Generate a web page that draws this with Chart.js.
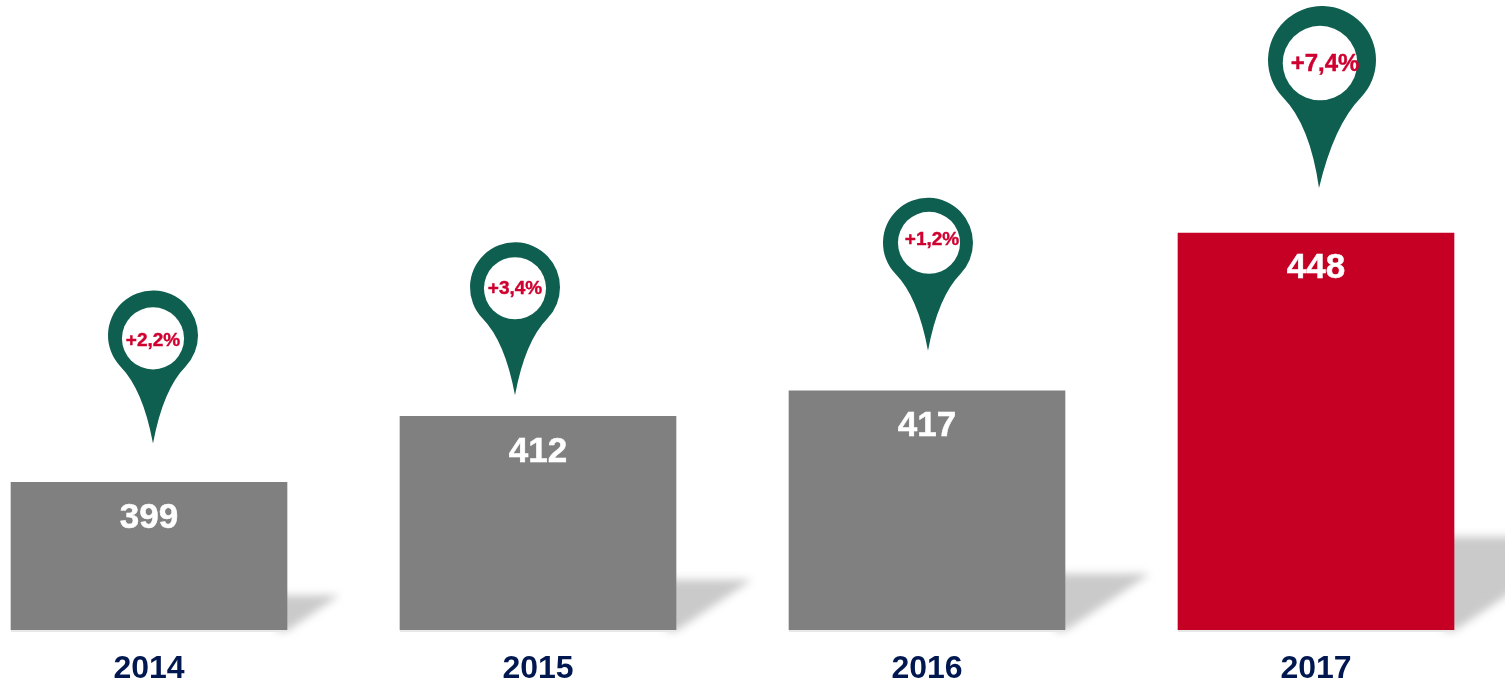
<!DOCTYPE html>
<html>
<head>
<meta charset="utf-8">
<script src="https://cdn.jsdelivr.net/npm/chart.js@4/dist/chart.umd.min.js"></script>
<style>
html,body{margin:0;padding:0;background:#fff;overflow:hidden;width:1505px;height:683px}
canvas{position:absolute;left:-46px;top:0}
</style>
</head>
<body>
<canvas id="c" width="1557" height="683"></canvas>
<script>
const years = ['2014','2015','2016','2017'];
const values = [399,412,417,448];
const growth = ['+2,2%','+3,4%','+1,2%','+7,4%'];
const barColors = ['#808080','#808080','#808080','#C60024'];

// pin placement relative to each bar
const pinDx = [4,-23,1,3];
const pinGap = [39,21,40,45];
const pinR = [45,45,45,54];
const pinStem = [108,108,108,128];
const pinHeadDx = [0,0,0,3];
const holeDx = [0,0,1,-2];
const holeDy = [3,1,0,3];
const pinFont = [19,19,19,24];
const labelDx = [0,0,4,3];
const labelDy = [5,1,-3,4];

const GREEN = '#0E5F50';
const FONT = '"Liberation Sans", Arial, sans-serif';

function drawPin(ctx, i, tipX, tipY){
  const r = pinR[i], k = r/45;
  const cx = tipX + pinHeadDx[i], cy = tipY - pinStem[i];
  ctx.save();
  ctx.fillStyle = GREEN;
  ctx.beginPath();
  const a = 0.76;
  ctx.arc(cx, cy, r, Math.PI - a, a, false);
  ctx.quadraticCurveTo(cx + 10*k, cy + 54*k, tipX, tipY);
  ctx.quadraticCurveTo(cx - 10*k, cy + 54*k, cx - r*Math.cos(a), cy + r*Math.sin(a));
  ctx.closePath();
  ctx.fill();
  ctx.fillStyle = '#fff';
  ctx.beginPath();
  ctx.arc(cx + holeDx[i], cy + holeDy[i], r*0.69, 0, Math.PI*2);
  ctx.fill();
  ctx.fillStyle = '#CF0030';
  ctx.strokeStyle = '#CF0030';
  ctx.lineWidth = 0.4;
  ctx.font = 'bold ' + pinFont[i] + 'px ' + FONT;
  ctx.textAlign = 'center';
  ctx.textBaseline = 'middle';
  ctx.fillText(growth[i], cx + labelDx[i], cy + labelDy[i]);
  ctx.strokeText(growth[i], cx + labelDx[i], cy + labelDy[i]);
  ctx.restore();
}

const decor = {
  id:'decor',
  beforeDatasetsDraw(chart){
    const ctx = chart.ctx, meta = chart.getDatasetMeta(0);
    const base = chart.scales.y.bottom;
    meta.data.forEach(bar=>{
      const right = bar.x + bar.width/2, left = bar.x - bar.width/2;
      const H = base - bar.y;
      const h = H*0.235, w = H*0.355;
      ctx.save();
      ctx.filter = 'blur(4px)';
      ctx.fillStyle = '#CACACA';
      ctx.beginPath();
      ctx.moveTo(right-10, base+1);
      ctx.lineTo(right, base+1);
      ctx.lineTo(right+w, base-h);
      ctx.lineTo(right-10, base-h);
      ctx.closePath();
      ctx.fill();
      ctx.restore();
      ctx.fillStyle = '#E8E8E8';
      ctx.fillRect(left, base, bar.width, 2);
    });
  },
  afterDatasetsDraw(chart){
    const ctx = chart.ctx, meta = chart.getDatasetMeta(0);
    meta.data.forEach((bar,i)=>{
      ctx.save();
      ctx.fillStyle = '#fff';
      ctx.strokeStyle = '#fff';
      ctx.lineWidth = 0.5;
      ctx.font = 'bold 35px ' + FONT;
      ctx.textAlign = 'center';
      ctx.textBaseline = 'middle';
      ctx.fillText(String(values[i]), bar.x, bar.y + 35.6);
      ctx.strokeText(String(values[i]), bar.x, bar.y + 35.6);
      ctx.restore();
      drawPin(ctx, i, bar.x + pinDx[i], bar.y - pinGap[i]);
    });
  }
};

new Chart(document.getElementById('c'),{
  type:'bar',
  data:{labels:years,datasets:[{data:values,backgroundColor:barColors,borderWidth:0,barThickness:276}]},
  options:{
    responsive:false,
    animation:false,
    layout:{padding:{left:0.5,right:0.5,top:0,bottom:0}},
    plugins:{legend:{display:false},tooltip:{enabled:false}},
    scales:{
      x:{
        grid:{display:false},
        border:{display:false},
        ticks:{color:'#00174F',font:{family:FONT,size:32,weight:'bold'},padding:12,maxRotation:0},
        afterFit(s){s.height=53;}
      },
      y:{display:false,min:370,max:493.8}
    }
  },
  plugins:[decor]
});
</script>
</body>
</html>
